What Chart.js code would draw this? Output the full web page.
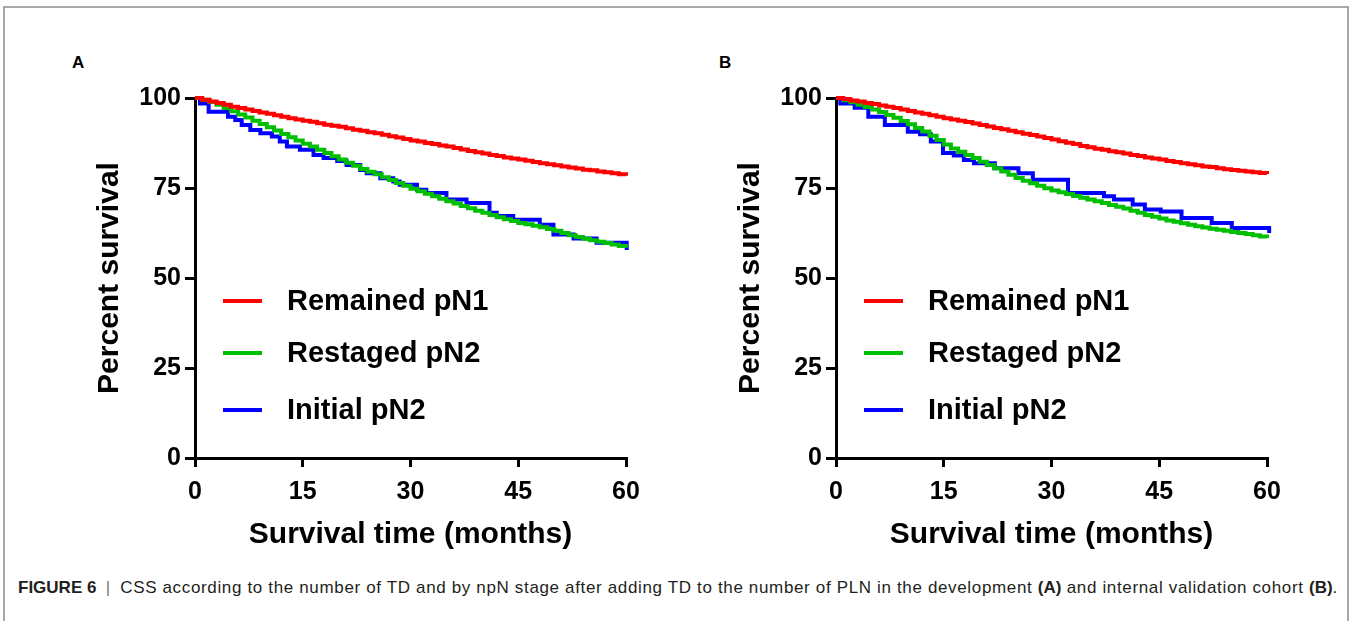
<!DOCTYPE html>
<html>
<head>
<meta charset="utf-8">
<script src="https://cdn.jsdelivr.net/npm/chart.js@4.4.1/dist/chart.umd.min.js"></script>
<style>
  html, body { margin: 0; padding: 0; background: #fff; }
  body { width: 1351px; height: 621px; position: relative; overflow: hidden; font-family: "Liberation Sans", Arial, sans-serif; }
  .frame { position: absolute; left: 3px; top: 6px; width: 1342px; height: 640px; border: 2px solid #a8a8a8; }
  .letter { position: absolute; top: 54px; font-size: 17px; line-height: 18px; font-weight: bold; color: #000; }
  canvas { position: absolute; top: 60px; }
  #survA { left: 60px; }
  #survB { left: 701px; }
  .caption { position: absolute; left: 18px; top: 578px; font-size: 17px; line-height: 20px; color: #231f20; white-space: nowrap; letter-spacing: 0.65px; }
  .caption b { letter-spacing: 0; }
  .caption .bar { color: #777; padding: 0 4px; }
</style>
</head>
<body>
<div class="frame"></div>
<div class="letter" style="left:72px">A</div>
<div class="letter" style="left:719px">B</div>
<canvas id="survA" width="600" height="500"></canvas>
<canvas id="survB" width="600" height="500"></canvas>
<div class="caption"><b>FIGURE 6</b> <span class="bar">|</span> CSS according to the number of TD and by npN stage after adding TD to the number of PLN in the development <b>(A)</b> and internal validation cohort <b>(B)</b>.</div>

<script>
const seriesNames = ['Remained pN1', 'Restaged pN2', 'Initial pN2'];
const seriesColors = ['#ff0000', '#00bf00', '#0000ff'];
const xTicks = [0, 15, 30, 45, 60];
const yTicks = [0, 25, 50, 75, 100];

const months = [0, 1, 2, 3, 4, 5, 6, 7, 8, 9, 10, 11, 12, 13, 14, 15, 16, 17, 18, 19, 20,
  21, 22, 23, 24, 25, 26, 27, 28, 29, 30, 31, 32, 33, 34, 35, 36, 37, 38, 39, 40,
  41, 42, 43, 44, 45, 46, 47, 48, 49, 50, 51, 52, 53, 54, 55, 56, 57, 58, 59, 60];

// development cohort (A)
const aRemained = [100, 99.5, 99.0, 98.6, 98.1, 97.6, 97.2, 96.8, 96.4, 96.0, 95.6,
  95.2, 94.8, 94.4, 94.0, 93.7, 93.4, 93.0, 92.6, 92.3, 92.0,
  91.6, 91.2, 90.9, 90.5, 90.2, 89.8, 89.4, 89.0, 88.6, 88.2,
  87.9, 87.5, 87.2, 86.8, 86.5, 86.1, 85.7, 85.3, 84.9, 84.6,
  84.2, 83.9, 83.5, 83.2, 82.9, 82.6, 82.2, 81.9, 81.6, 81.3,
  81.0, 80.7, 80.4, 80.1, 79.9, 79.6, 79.4, 79.1, 78.8, 78.4];
const aRestaged = [100, 99.5, 98.9, 98.1, 97.2, 96.3, 95.4, 94.6, 93.7, 92.8, 91.9,
  91.0, 90.0, 89.1, 88.2, 87.3, 86.5, 85.6, 84.7, 83.8, 82.9,
  82.0, 81.2, 80.3, 79.5, 78.8, 78.0, 77.2, 76.4, 75.6, 74.8,
  74.1, 73.4, 72.7, 72.0, 71.3, 70.7, 70.0, 69.4, 68.7, 68.1,
  67.5, 66.9, 66.3, 65.8, 65.3, 64.9, 64.5, 64.1, 63.6, 63.1,
  62.5, 61.9, 61.4, 60.9, 60.5, 60.1, 59.7, 59.3, 58.9, 58.4];
const aInitialTime = [0, 0.7, 1.9, 4.6, 5.6, 6.5, 7.7, 9.1, 10.7, 11.8, 12.8, 14.6, 16.5,
  17.9, 19.8, 21.1, 23.0, 23.9, 25.8, 27.6, 28.5, 30.9, 32.2, 35.0, 37.8, 41.0,
  42.0, 44.3, 48.0, 49.9, 52.7, 55.9, 60.1];
const aInitialSurv = [100, 98.5, 96.2, 94.8, 93.9, 92.5, 91.1, 90.2, 89.3, 87.9, 86.5, 85.6, 84.2,
  83.3, 82.5, 81.4, 80.0, 79.1, 77.7, 76.8, 75.9, 74.5, 73.6, 71.8, 70.8, 68.1,
  67.2, 66.2, 64.8, 62.1, 61.0, 59.8, 57.8];

// internal validation cohort (B)
const bRemained = [100, 99.7, 99.3, 99.0, 98.6, 98.3, 97.9, 97.6, 97.2, 96.8, 96.4,
  96.0, 95.6, 95.2, 94.8, 94.4, 94.0, 93.7, 93.3, 92.9, 92.5,
  92.1, 91.7, 91.3, 90.9, 90.5, 90.1, 89.7, 89.3, 88.9, 88.5,
  88.0, 87.6, 87.2, 86.7, 86.3, 85.9, 85.6, 85.2, 84.9, 84.6,
  84.2, 83.9, 83.5, 83.2, 82.9, 82.5, 82.2, 81.9, 81.6, 81.3,
  81.0, 80.8, 80.5, 80.2, 80.0, 79.8, 79.6, 79.4, 79.2, 78.9];
const bRestaged = [100, 99.4, 98.8, 98.1, 97.5, 96.8, 96.1, 95.3, 94.5, 93.6, 92.7,
  91.7, 90.7, 89.5, 88.3, 87.1, 86.0, 85.1, 84.2, 83.3, 82.3,
  81.4, 80.5, 79.6, 78.7, 77.8, 77.0, 76.3, 75.6, 74.9, 74.3,
  73.8, 73.3, 72.8, 72.3, 71.8, 71.3, 70.8, 70.3, 69.8, 69.3,
  68.7, 68.1, 67.5, 67.0, 66.5, 66.0, 65.6, 65.2, 64.8, 64.4,
  64.0, 63.7, 63.4, 63.1, 62.8, 62.5, 62.2, 61.9, 61.5, 61.1];
const bInitialTime = [0, 0.6, 2.6, 4.5, 6.8, 10.0, 11.7, 13.2, 14.9, 16.4, 17.8, 19.2, 22.1,
  25.4, 27.4, 32.3, 37.3, 38.7, 41.3, 43.0, 45.2, 48.1, 52.3, 55.1, 60.3];
const bInitialSurv = [100, 98.5, 97.3, 94.8, 92.5, 90.6, 89.9, 87.9, 84.7, 84.0, 82.8, 81.9, 80.5,
  79.1, 77.3, 73.6, 72.7, 71.8, 70.4, 69.0, 68.5, 66.7, 65.3, 63.9, 62.5];

Chart.defaults.font.family = '"Liberation Sans", Arial, sans-serif';

// legend rows sit inside the plot, below the curves
const legendRows = [203, 255, 312];

const kmLegend = {
  id: 'kmLegend',
  afterDatasetsDraw(chart) {
    const { ctx, chartArea } = chart;
    ctx.save();
    ctx.font = 'bold 29px "Liberation Sans", Arial, sans-serif';
    ctx.textBaseline = 'middle';
    ctx.textAlign = 'left';
    chart.data.datasets.forEach((ds, i) => {
      const y = chartArea.top + legendRows[i];
      ctx.strokeStyle = ds.borderColor;
      ctx.lineWidth = 4;
      ctx.beginPath();
      ctx.moveTo(chartArea.left + 28, y);
      ctx.lineTo(chartArea.left + 67, y);
      ctx.stroke();
      ctx.fillStyle = '#000';
      ctx.fillText(ds.label, chartArea.left + 92, y + 1);
    });
    ctx.restore();
  }
};

function pairs(xs, ys) {
  return xs.map((x, i) => ({ x: x, y: ys[i] }));
}

function makePanel(id, curves) {
  const ctx = document.getElementById(id).getContext('2d');
  return new Chart(ctx, {
    type: 'line',
    data: {
      datasets: curves.map((pts, i) => ({
        label: seriesNames[i],
        data: pts,
        borderColor: seriesColors[i],
        borderWidth: 4,
        pointRadius: 0,
        stepped: true,
        fill: false,
        clip: false
      }))
    },
    options: {
      responsive: false,
      animation: false,
      devicePixelRatio: 1,
      layout: { padding: { left: 0, top: 38, right: 34, bottom: 0 } },
      plugins: {
        legend: { display: false },
        tooltip: { enabled: false }
      },
      scales: {
        x: {
          type: 'linear',
          min: 0,
          max: 60,
          afterBuildTicks: s => { s.ticks = xTicks.map(v => ({ value: v })); },
          afterFit: s => { s.height = 102; s.paddingLeft = 0; s.paddingRight = 0; },
          grid: { drawOnChartArea: false, drawTicks: true, tickLength: 9, color: '#000', lineWidth: 3 },
          border: { display: true, color: '#000', width: 3 },
          ticks: { color: '#000', padding: 10, font: { size: 25, weight: 'bold' } },
          title: {
            display: true,
            text: 'Survival time (months)',
            color: '#000',
            font: { size: 30, weight: 'bold' },
            padding: { top: 0, bottom: 7 }
          }
        },
        y: {
          min: 0,
          max: 100,
          afterBuildTicks: s => { s.ticks = yTicks.map(v => ({ value: v })); },
          afterFit: s => { s.width = 135; s.paddingTop = 0; s.paddingBottom = 0; },
          grid: { drawOnChartArea: false, drawTicks: true, tickLength: 10, color: '#000', lineWidth: 3 },
          border: { display: true, color: '#000', width: 3 },
          ticks: { color: '#000', padding: 4, font: { size: 25, weight: 'bold' } },
          title: {
            display: true,
            text: 'Percent survival',
            color: '#000',
            font: { size: 30, weight: 'bold' },
            padding: { top: 32, bottom: 0 }
          }
        }
      }
    },
    plugins: [kmLegend]
  });
}

makePanel('survA', [
  pairs(months, aRemained),
  pairs(months, aRestaged),
  pairs(aInitialTime, aInitialSurv)
]);

makePanel('survB', [
  pairs(months, bRemained),
  pairs(months, bRestaged),
  pairs(bInitialTime, bInitialSurv)
]);
</script>
</body>
</html>
